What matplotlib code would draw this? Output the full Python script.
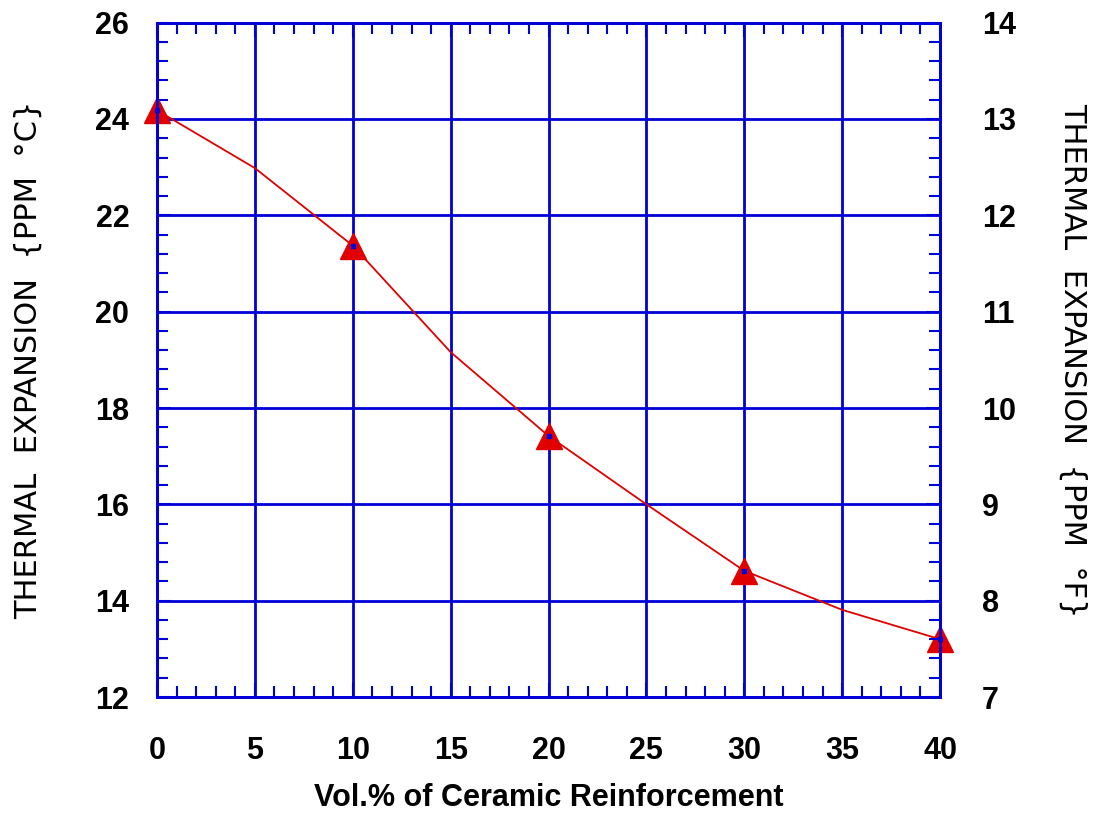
import matplotlib.pyplot as plt
from matplotlib.ticker import MultipleLocator

# data
vol_pct = [0, 5, 10, 15, 20, 25, 30, 35, 40]
cte_c = [24.18, 22.98, 21.37, 19.16, 17.42, 16.0, 14.62, 13.81, 13.2]
marker_vol = [0, 10, 20, 30, 40]
marker_cte = [24.18, 21.37, 17.42, 14.62, 13.2]

blue = '#0000d8'
red = '#e00000'

fig = plt.figure(figsize=(11.02, 8.14), dpi=100)
ax = fig.add_axes([0.1425, 0.1437, 0.7105, 0.8285])

ax.plot(vol_pct, cte_c, color=red, linewidth=1.3, zorder=3)
ax.plot(marker_vol, marker_cte, linestyle='none', marker='^', markersize=19,
        color=red, clip_on=False, zorder=4)
ax.plot(marker_vol, marker_cte, linestyle='none', marker='s', markersize=2.5,
        color=blue, clip_on=False, zorder=5)

ax.set_xlim(0, 40)
ax.set_ylim(12, 26)
ax.xaxis.set_major_locator(MultipleLocator(5))
ax.xaxis.set_minor_locator(MultipleLocator(1))
ax.yaxis.set_major_locator(MultipleLocator(2))
ax.yaxis.set_minor_locator(MultipleLocator(0.4))
ax.grid(which='major', color=blue, linewidth=2)

for s in ax.spines.values():
    s.set_color(blue)
    s.set_linewidth(2)

ax.tick_params(which='both', direction='in', color=blue, width=1.5,
               top=True, right=False, labelsize=22)
ax.tick_params(which='major', length=10)
ax.tick_params(which='minor', length=8)
ax.tick_params(axis='x', pad=28)
ax.tick_params(axis='y', pad=20)
for lab in ax.get_xticklabels() + ax.get_yticklabels():
    lab.set_fontweight('bold')
    lab.set_family('Liberation Sans')

ax.set_xlabel('Vol.% of Ceramic Reinforcement', fontsize=22, fontweight='bold',
              family='Liberation Sans', labelpad=12)
ax.set_ylabel('THERMAL  EXPANSION  {PPM  \u00b0C}', fontsize=22,
              family='DejaVu Sans', labelpad=38)

# right axis in ppm/F
ax2 = ax.twinx()
ax2.set_ylim(7, 14)
ax2.yaxis.set_major_locator(MultipleLocator(1))
ax2.yaxis.set_minor_locator(MultipleLocator(0.2))
for s in ax2.spines.values():
    s.set_color(blue)
    s.set_linewidth(2)
ax2.tick_params(which='both', direction='in', color=blue, width=1.5, labelsize=22, pad=30)
ax2.tick_params(which='major', length=10)
ax2.tick_params(which='minor', length=8)
for lab in ax2.get_yticklabels():
    lab.set_fontweight('bold')
    lab.set_family('Liberation Sans')
ax2.set_ylabel('THERMAL  EXPANSION  {PPM  \u00b0F}', fontsize=22,
               family='DejaVu Sans', rotation=270, labelpad=52)

plt.savefig('out.png', dpi=100)
